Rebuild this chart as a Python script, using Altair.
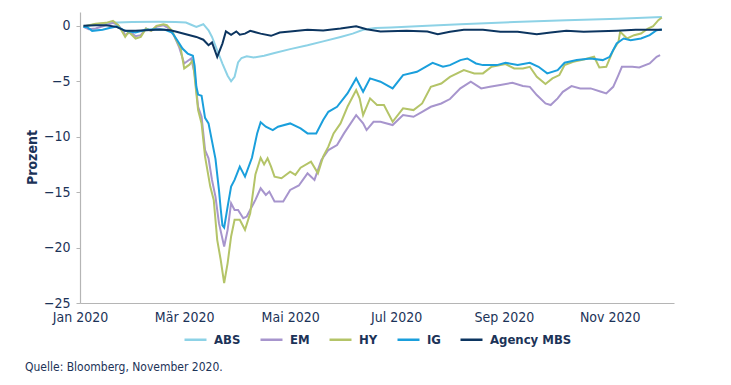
import altair as alt
import pandas as pd

SERIES = ["ABS", "EM", "HY", "IG", "Agency MBS"]
COLORS = ["#8dd2e6", "#a795cd", "#b4c468", "#1a9fdc", "#0c3560"]
MONTHS_DE = ["Jan", "Feb", "Mär", "Apr", "Mai", "Jun", "Jul", "Aug", "Sep", "Okt", "Nov", "Dez"]
Y_TICKS = [0, -5, -10, -15, -20, -25]
X_TICK_MONTHS = [1, 3, 5, 7, 9, 11]

# days since 2020-01-01, values in percent
ABS_days = [2, 9, 17, 30, 45, 55, 61, 64, 67, 71, 74, 76, 79, 82, 85, 87, 89, 91, 93, 96, 100, 106, 112, 121, 131, 140, 150, 157, 163, 170, 179, 200, 219, 250, 280, 310, 335]
ABS_vals = [-0.05, 0.15, 0.27, 0.35, 0.37, 0.35, 0.3, 0.1, -0.09, 0.15, -0.4, -1.0, -2.2, -3.4, -4.5, -5.0, -4.6, -3.3, -2.9, -2.75, -2.85, -2.7, -2.45, -2.1, -1.75, -1.4, -1.0, -0.7, -0.35, -0.2, -0.15, 0.0, 0.15, 0.35, 0.5, 0.65, 0.8]

MBS_days = [2, 9, 15, 21, 26, 32, 38, 46, 52, 55, 61, 67, 71, 74, 76, 79, 82, 84, 87, 90, 92, 95, 98, 104, 110, 115, 121, 131, 140, 150, 159, 165, 173, 188, 200, 206, 213, 221, 232, 242, 252, 263, 271, 280, 290, 309, 320, 335]
MBS_vals = [0.0, 0.06, 0.06, -0.09, -0.45, -0.45, -0.39, -0.33, -0.39, -0.51, -0.75, -1.0, -1.25, -1.75, -1.5, -2.8, -1.6, -0.5, -0.8, -0.5, -0.8, -0.7, -0.45, -0.7, -0.9, -0.6, -0.5, -0.36, -0.42, -0.24, -0.03, -0.3, -0.51, -0.45, -0.51, -0.75, -0.54, -0.36, -0.36, -0.54, -0.54, -0.75, -0.6, -0.45, -0.54, -0.45, -0.36, -0.36]

IG_days = [2, 4, 7, 13, 17, 21, 26, 32, 38, 44, 49, 53, 56, 59, 62, 65, 66, 67, 68, 70, 72, 74, 76, 78, 80, 81, 82, 83, 85, 87, 89, 92, 95, 99, 102, 104, 107, 111, 114, 121, 127, 131, 136, 140, 143, 148, 154, 159, 163, 167, 173, 180, 186, 194, 203, 209, 213, 219, 223, 228, 232, 240, 245, 252, 259, 264, 269, 275, 279, 286, 294, 301, 305, 309, 313, 317, 323, 328, 332, 335]
IG_vals = [-0.1, -0.1, -0.45, -0.35, -0.2, -0.05, -0.45, -0.6, -0.36, -0.3, -0.36, -0.6, -1.3, -2.05, -2.5, -2.7, -3.6, -5.5, -6.2, -6.3, -8.3, -8.8, -10.4, -12.0, -14.8, -16.5, -18.0, -18.2, -16.3, -14.5, -13.9, -12.7, -13.6, -11.9, -9.7, -8.7, -9.1, -9.4, -9.1, -8.8, -9.25, -9.7, -9.7, -8.5, -7.75, -7.3, -6.1, -4.74, -5.95, -4.74, -5.04, -5.64, -4.44, -4.14, -3.33, -3.69, -3.54, -3.09, -2.94, -3.39, -3.54, -3.54, -3.33, -3.54, -3.33, -3.69, -4.29, -3.99, -3.33, -3.09, -2.94, -3.09, -2.79, -1.59, -1.14, -1.29, -1.14, -0.84, -0.39, -0.33]

HY_days = [2, 9, 15, 19, 22, 24, 26, 28, 32, 35, 38, 41, 44, 48, 50, 53, 55, 58, 60, 63, 65, 66, 68, 70, 72, 75, 77, 79, 81, 83, 85, 87, 89, 92, 95, 98, 101, 104, 106, 108, 110, 112, 116, 121, 124, 127, 133, 137, 140, 143, 146, 150, 154, 159, 161, 163, 167, 171, 175, 180, 186, 192, 197, 202, 208, 213, 221, 227, 232, 237, 245, 250, 255, 259, 263, 268, 272, 276, 279, 284, 290, 296, 299, 303, 307, 310, 311, 315, 319, 323, 327, 330, 333, 335]
HY_vals = [-0.05, 0.2, 0.27, 0.45, 0.06, -0.45, -0.99, -0.54, -1.14, -0.99, -0.24, -0.45, 0.0, 0.15, 0.06, -0.45, -1.14, -2.05, -3.84, -3.5, -3.1, -4.6, -7.6, -8.8, -11.8, -14.5, -15.7, -19.3, -21.1, -23.2, -21.4, -19.0, -17.5, -17.5, -18.4, -16.9, -13.4, -11.9, -12.5, -11.95, -12.7, -13.6, -13.75, -13.15, -13.45, -12.8, -12.25, -13.3, -11.8, -10.9, -9.7, -8.8, -7.3, -5.8, -6.54, -8.05, -6.54, -7.14, -7.14, -8.65, -7.44, -7.6, -7.0, -5.5, -5.2, -4.6, -3.99, -4.29, -4.29, -3.69, -3.45, -3.84, -3.84, -3.69, -4.59, -5.25, -4.74, -4.44, -3.54, -3.24, -3.03, -2.79, -3.75, -3.69, -2.19, -1.44, -0.54, -1.14, -0.84, -0.69, -0.24, -0.03, 0.51, 0.75]

EM_days = [2, 5, 9, 15, 19, 22, 25, 26, 29, 32, 35, 38, 41, 44, 48, 51, 54, 57, 60, 64, 66, 68, 70, 72, 74, 76, 78, 80, 83, 85, 87, 89, 91, 94, 96, 99, 101, 104, 107, 109, 112, 117, 121, 126, 131, 135, 139, 143, 148, 152, 159, 163, 165, 169, 173, 180, 186, 192, 197, 202, 208, 213, 219, 225, 231, 236, 242, 249, 255, 259, 263, 268, 271, 275, 278, 283, 288, 294, 300, 303, 307, 310, 312, 318, 322, 328, 332, 334]
EM_vals = [-0.09, -0.3, -0.24, 0.06, 0.27, 0.06, -0.54, -0.84, -0.54, -0.93, -0.84, -0.24, -0.45, -0.09, 0.06, -0.24, -0.84, -1.89, -3.39, -2.94, -4.3, -7.3, -8.2, -11.2, -11.95, -13.9, -15.4, -17.8, -19.9, -18.4, -16.0, -16.6, -16.6, -17.35, -17.2, -16.3, -15.7, -14.65, -15.25, -14.95, -15.85, -15.85, -14.8, -14.4, -13.3, -13.9, -12.1, -11.2, -10.75, -9.7, -8.05, -8.8, -9.4, -8.65, -8.65, -8.95, -8.05, -8.2, -7.75, -7.3, -7.0, -6.6, -5.64, -5.04, -5.64, -5.5, -5.34, -5.13, -5.43, -5.5, -6.24, -7.0, -7.14, -6.54, -5.95, -5.43, -5.64, -5.64, -5.95, -6.1, -5.5, -4.44, -3.69, -3.69, -3.75, -3.39, -2.79, -2.64]

START = pd.Timestamp("2020-01-01")
rows = []
for name, days, vals in [("ABS", ABS_days, ABS_vals), ("EM", EM_days, EM_vals),
                         ("HY", HY_days, HY_vals), ("IG", IG_days, IG_vals),
                         ("Agency MBS", MBS_days, MBS_vals)]:
    for d, v in zip(days, vals):
        rows.append({"date": (START + pd.Timedelta(days=d)).strftime("%Y-%m-%d"),
                     "value": v, "series": name, "order": SERIES.index(name)})
df = pd.DataFrame(rows)

FONT = "DejaVu Sans Condensed, Liberation Sans, sans-serif"
NAVY = "#1c3358"
AXIS_GREY = "#b5b5b5"

month_arr = "[" + ",".join("'" + m + "'" for m in MONTHS_DE) + "]"
label_expr = month_arr + "[utcmonth(datum.value)] + ' ' + utcyear(datum.value)"

chart = alt.Chart(df).mark_line(strokeWidth=2).encode(
    x=alt.X("date:T",
            scale=alt.Scale(type="utc",
                            domain=[alt.DateTime(year=2020, month=1, date=1, utc=True),
                                    alt.DateTime(year=2020, month=12, date=8, utc=True)]),
            axis=alt.Axis(title=None, grid=False, ticks=False, labelFlush=False,
                          values=[alt.DateTime(year=2020, month=m, date=1, utc=True) for m in X_TICK_MONTHS],
                          labelExpr=label_expr, labelPadding=7, labelFontSize=14)),
    y=alt.Y("value:Q",
            scale=alt.Scale(domain=[-25, 1.25], nice=False, zero=False),
            axis=alt.Axis(title="Prozent", values=Y_TICKS, grid=False, tickSize=4,
                          labelPadding=6, labelFontSize=14,
                          titleFontSize=14, titleFontWeight="bold",
                          titleX=-48, titleY=145, titleBaseline="middle", titleAngle=270)),
    color=alt.Color("series:N",
                    scale=alt.Scale(domain=SERIES, range=COLORS),
                    legend=alt.Legend(title=None, orient="none", direction="horizontal",
                                      legendX=103, legendY=315,
                                      symbolType="stroke", symbolSize=484, symbolStrokeWidth=2.5,
                                      labelFontSize=13, labelFontWeight="bold", labelColor=NAVY,
                                      labelFont=FONT, labelOffset=6, columnPadding=14)),
    detail="series:N",
    order=alt.Order("order:Q"),
).properties(
    width=594,
    height=291,
    autosize=alt.AutoSizeParams(type="none"),
    padding={"left": 72, "top": 4, "right": 49, "bottom": 74},
    title=alt.TitleParams("Quelle: Bloomberg, November 2020.", orient="bottom", anchor="start",
                          frame="group", fontSize=12, fontWeight="normal", color=NAVY, font=FONT,
                          offset=15, dx=-55),
).configure_view(stroke=None).configure_axis(
    domainColor=AXIS_GREY, tickColor=AXIS_GREY, labelColor=NAVY, titleColor=NAVY,
    labelFont=FONT, titleFont=FONT, domainWidth=1.2
)

chart.save("out.html", embed_options={"renderer": "svg", "actions": False})
